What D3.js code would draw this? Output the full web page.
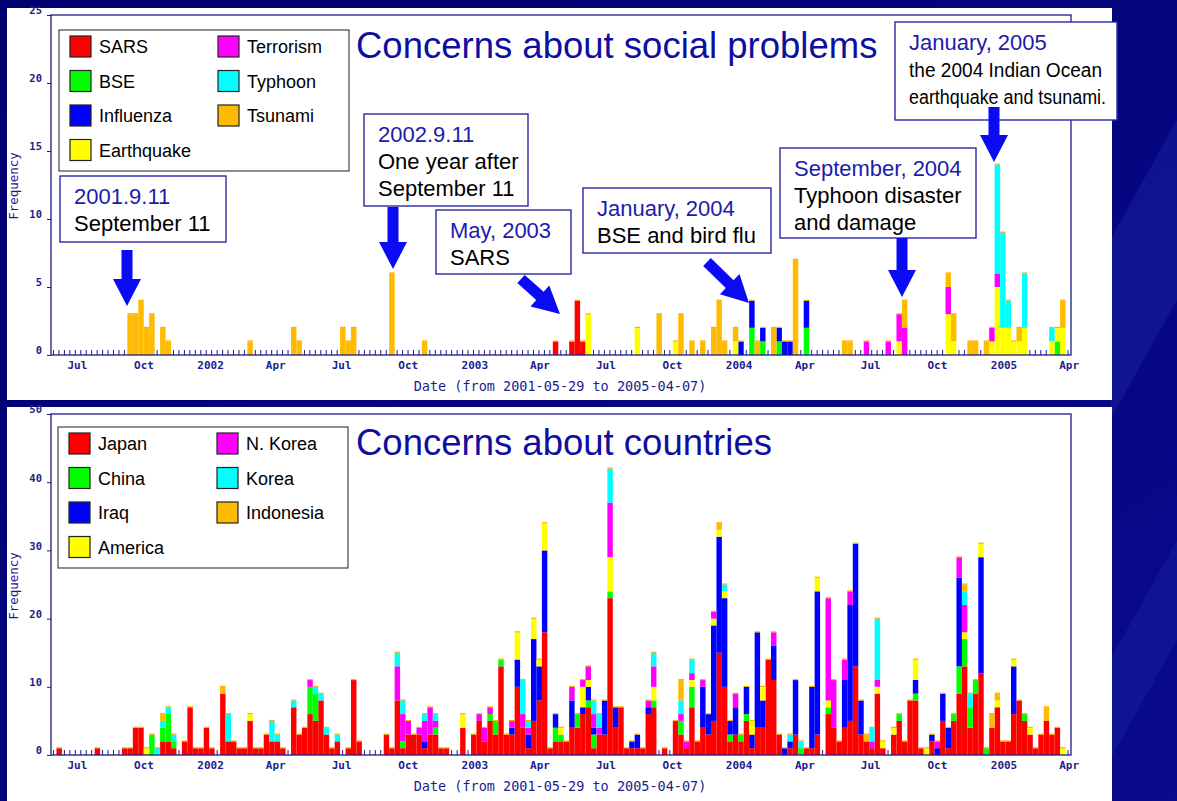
<!DOCTYPE html>
<html>
<head>
<meta charset="utf-8">
<script src="https://cdn.jsdelivr.net/npm/d3@7"></script>
<style>
  body { margin: 0; background: #000080; overflow: hidden; }
  text { font-family: "Liberation Sans", Arial, sans-serif; }
  .mono { font-family: "DejaVu Sans Mono", monospace; }
</style>
</head>
<body>
<svg id="slide" width="1177" height="801"></svg>
<script>
// ---- data: weekly-ish bins, [binIndex, count] ----
const binCount = 187;
const startDate = new Date(2001, 4, 29);
const endDate = new Date(2005, 3, 7);

const socialKeys = ["SARS", "BSE", "Influenza", "Earthquake", "Terrorism", "Typhoon", "Tsunami"];
const countryKeys = ["Japan", "China", "Iraq", "America", "N. Korea", "Korea", "Indonesia"];
const seriesColors = ["#ff0000", "#00ff00", "#0000ff", "#ffff00", "#ff00ff", "#00ffff", "#ffbb00"];

const sars = [[92,1],[95,1],[96,4],[97,1]];
const bse = [[128,2],[130,1],[133,1],[138,2],[184,1]];
const influenza = [[126,1],[128,2],[130,1],[133,1],[134,1],[135,1],[138,2]];
const earthquake = [[98,3],[107,2],[114,1],[125,1],[155,1],[164,3],[165,1],[172,1],[173,5],[174,2],[175,2],[176,1],[177,1],[178,2],[183,1],[184,1],[185,2]];
const terrorism = [[149,1],[153,1],[155,2],[156,2],[164,2],[172,1],[173,1]];
const typhoon = [[173,8],[174,7],[175,2],[178,4],[183,1]];
const tsunami = [[14,3],[15,3],[16,4],[17,2],[18,3],[20,2],[21,1],[36,1],[44,2],[45,1],[53,2],[54,1],[55,2],[62,6],[68,1],
  [111,3],[115,3],[117,1],[119,1],[121,2],[122,4],[123,1],[125,1],[129,1],[132,2],[136,7],[145,1],[146,1],[156,2],
  [164,1],[165,2],[168,1],[169,1],[171,1],[177,1],[185,2]];

const japan = [[1,1],[8,1],[13,1],[14,1],[15,4],[16,4],[20,2],[21,2],[22,1],[24,2],[25,7],[26,1],[27,1],[28,4],[29,1],
  [31,9],[32,2],[33,2],[34,1],[35,1],[36,5],[37,1],[38,1],[39,3],[40,2],[41,2],[42,1],[44,7],[45,3],[46,4],[47,6],
  [48,5],[49,8],[50,3],[51,1],[52,2],[54,1],[55,11],[56,2],[61,3],[62,1],[63,8],[64,1],[65,3],[66,3],[67,3],[68,1],
  [69,3],[70,3],[71,1],[72,1],[75,4],[77,3],[78,5],[79,2],[80,5],[81,3],[82,13],[83,3],[84,3],[85,10],[86,4],[87,1],
  [88,5],[89,8],[90,18],[91,1],[92,2],[93,2],[94,2],[95,4],[96,4],[97,6],[98,7],[99,1],[100,3],[101,3],[102,23],
  [103,4],[104,7],[105,1],[106,1],[107,1],[108,1],[109,6],[110,7],[112,1],[114,5],[115,3],[116,1],[117,7],[118,2],
  [119,4],[120,3],[121,5],[122,15],[123,10],[124,2],[125,3],[126,2],[127,5],[128,1],[129,4],[130,4],[131,14],[132,11],
  [133,3],[135,1],[136,3],[138,1],[139,1],[140,3],[142,6],[143,4],[144,2],[145,4],[146,5],[147,13],[148,3],[149,2],
  [150,1],[151,9],[152,1],[154,3],[155,5],[156,2],[157,8],[158,8],[159,1],[161,2],[163,5],[164,1],[165,5],[166,9],
  [167,13],[168,4],[169,9],[170,12],[172,4],[173,7],[174,2],[175,2],[176,6],[177,8],[178,5],[179,3],[180,1],[181,3],
  [182,5],[183,3],[184,4]];
const china = [[18,3],[20,2],[21,4],[22,1],[47,4],[48,4],[64,1],[70,1],[80,1],[81,2],[82,1],[92,2],[93,1],[96,2],[98,1],
  [99,2],[102,1],[110,1],[115,2],[117,3],[124,1],[126,1],[127,1],[137,1],[142,1],[155,1],[158,1],[165,1],[166,4],
  [167,4],[168,3],[169,2],[171,1],[178,1]];
const iraq = [[68,1],[84,1],[85,4],[87,2],[88,12],[89,5],[90,12],[92,2],[95,4],[97,1],[98,2],[99,1],[101,5],[103,3],
  [106,1],[107,2],[109,1],[119,6],[120,3],[121,14],[122,17],[123,13],[124,2],[125,4],[127,4],[128,2],[129,14],[130,4],
  [132,5],[134,1],[135,1],[136,8],[139,9],[140,21],[145,7],[146,17],[147,18],[148,5],[158,2],[161,1],[162,1],[163,4],
  [164,3],[166,13],[170,17],[176,7]];
const america = [[17,1],[36,1],[75,2],[85,4],[88,3],[89,1],[90,4],[93,1],[97,3],[98,1],[102,5],[110,2],[117,1],[121,1],
  [122,1],[123,1],[128,2],[130,2],[140,2],[142,1],[151,1],[152,1],[154,1],[158,3],[160,1],[167,1],[170,2],[173,1],
  [176,1],[179,1],[185,1]];
const nKorea = [[47,1],[63,5],[64,4],[65,2],[67,1],[68,3],[69,4],[70,1],[78,1],[79,2],[80,1],[84,1],[86,2],[87,1],[95,2],
  [97,1],[98,2],[99,2],[100,1],[102,8],[109,1],[110,3],[115,1],[116,1],[117,1],[119,1],[121,1],[125,2],[132,2],
  [142,15],[143,7],[145,3],[146,2],[150,1],[151,1],[162,1],[166,3],[167,4]];
const korea = [[19,1],[20,1],[21,1],[22,1],[32,4],[40,3],[41,1],[44,1],[48,1],[49,1],[50,1],[52,1],[63,2],[64,2],[68,1],
  [70,1],[86,5],[87,1],[99,2],[100,2],[102,5],[110,2],[115,2],[117,2],[123,1],[135,1],[137,1],[150,2],[151,9],
  [167,2],[168,2]];
const indonesia = [[20,1],[31,1],[115,3],[122,1],[149,1],[167,1],[172,2],[173,1],[182,2]];

const socialTicks = [0, 5, 10, 15, 20, 25];
const countryTicks = [0, 10, 20, 30, 40, 50];

// ---- drawing ----
const navy = "#1c1c8c";
const svg = d3.select("#slide");
const plotL = 51, plotR = 1071;

const x = d3.scaleLinear().domain([0, binCount]).range([plotL, plotR]);
const t = d3.scaleTime().domain([startDate, endDate]).range([plotL + 2, plotR + 2]);

// slide background
const defs = svg.append("defs");
const grad = defs.append("linearGradient").attr("id", "bg").attr("x1", 0).attr("y1", 0).attr("x2", 1).attr("y2", 1);
grad.append("stop").attr("offset", "0%").attr("stop-color", "#00006e");
grad.append("stop").attr("offset", "100%").attr("stop-color", "#0a0a8e");
svg.append("rect").attr("width", 1177).attr("height", 801).attr("fill", "url(#bg)");
svg.append("path").attr("d", "M1177,120 L1177,300 L1110,420 L1110,240 Z").attr("fill", "#1f2fa8").attr("opacity", 0.35);
svg.append("path").attr("d", "M1177,540 L1177,640 L1110,760 L1110,660 Z").attr("fill", "#1f2fa8").attr("opacity", 0.3);

function fill(pairs) {
  const a = new Array(binCount).fill(0);
  pairs.forEach(([i, v]) => { a[i] = v; });
  return a;
}

function drawPanel(cfg) {
  const g = svg.append("g");
  g.append("rect").attr("x", 7).attr("y", cfg.boxTop).attr("width", 1105).attr("height", cfg.boxBottom - cfg.boxTop).attr("fill", "#fff");

  const y = d3.scaleLinear().domain([0, cfg.yMax]).range([cfg.y0, cfg.y1]);

  // weekly minor ticks on the baseline (bars cover them)
  g.append("g").selectAll("line").data(d3.range(binCount)).join("line")
    .attr("x1", i => x(i) + 2.5).attr("x2", i => x(i) + 2.5)
    .attr("y1", cfg.y0).attr("y2", cfg.y0 - 5)
    .attr("stroke", navy).attr("stroke-width", 1);

  const cols = cfg.values.map(fill);
  const rows = d3.range(binCount).map(i => {
    const r = { bin: i };
    cfg.keys.forEach((k, j) => { r[k] = cols[j][i]; });
    return r;
  });
  const layers = d3.stack().keys(cfg.keys)(rows);

  g.append("g").selectAll("g").data(layers).join("g")
    .attr("fill", (d, i) => seriesColors[i])
    .selectAll("rect").data(d => d.filter(s => s[1] > s[0])).join("rect")
    .attr("x", d => x(d.data.bin))
    .attr("width", x(1) - x(0))
    .attr("y", d => y(d[1]))
    .attr("height", d => y(d[0]) - y(d[1]));

  // thin orange cap on each bar
  const totals = rows.map(r => ({ bin: r.bin, total: d3.sum(cfg.keys, k => r[k]) })).filter(d => d.total > 0);
  g.append("g").selectAll("rect").data(totals).join("rect")
    .attr("x", d => x(d.bin)).attr("width", x(1) - x(0))
    .attr("y", d => y(d.total) - 1).attr("height", 1.2)
    .attr("fill", "#ffb000");

  // frame
  g.append("rect").attr("x", plotL).attr("y", cfg.y1).attr("width", plotR - plotL).attr("height", cfg.y0 - cfg.y1)
    .attr("fill", "none").attr("stroke", navy).attr("stroke-width", 1.3);

  // y axis
  const ya = g.append("g").attr("transform", `translate(${plotL},0)`)
    .call(d3.axisLeft(y).tickValues(cfg.ticks).tickSize(4).tickPadding(5));
  ya.select(".domain").remove();
  ya.selectAll("line").attr("stroke", navy);
  ya.selectAll("text").attr("class", "mono").attr("fill", navy).attr("font-size", 10.5).attr("font-weight", "bold").attr("dy", "-0.1em");

  // x axis
  const xa = g.append("g").attr("transform", `translate(0,${cfg.y0})`)
    .call(d3.axisBottom(t).ticks(d3.timeMonth.every(3)).tickSize(0).tickPadding(6)
      .tickFormat(d => d.getMonth() === 0 ? d3.timeFormat("%Y")(d) : d3.timeFormat("%b")(d)));
  xa.select(".domain").remove();
  xa.selectAll("text").attr("class", "mono").attr("fill", navy).attr("font-size", 11).attr("font-weight", "bold");

  g.append("text").attr("class", "mono").attr("x", 560).attr("y", cfg.y0 + 36)
    .attr("text-anchor", "middle").attr("fill", navy).attr("font-size", 13.5)
    .text("Date (from 2001-05-29 to 2005-04-07)");
  g.append("text").attr("class", "mono")
    .attr("transform", `translate(18,${cfg.labelY}) rotate(-90)`)
    .attr("text-anchor", "middle").attr("fill", navy).attr("font-size", 12.5)
    .text("Frequency");

  // legend
  const lg = g.append("g");
  lg.append("rect").attr("x", cfg.legend.x).attr("y", cfg.legend.y).attr("width", 290).attr("height", 141)
    .attr("fill", "#fff").attr("stroke", "#444").attr("stroke-width", 1.2);
  const items = lg.selectAll("g").data(cfg.keys).join("g")
    .attr("transform", (d, i) => {
      const col = i < 4 ? 0 : 1, row = i < 4 ? i : i - 4;
      return `translate(${cfg.legend.x + 11 + col * 148},${cfg.legend.y + 6 + row * 34.5})`;
    });
  items.append("rect").attr("width", 21).attr("height", 21)
    .attr("fill", (d, i) => seriesColors[i]).attr("stroke", "#222").attr("stroke-width", 1.2);
  items.append("text").attr("x", 29).attr("y", 17).attr("font-size", 18).attr("fill", "#000").text(d => d);

  g.append("text").attr("x", 356).attr("y", cfg.titleY).attr("font-size", 36.5).attr("fill", "#0e0ea0").text(cfg.title);
}

drawPanel({
  boxTop: 8, boxBottom: 400, y0: 355, y1: 15, yMax: 25, ticks: socialTicks,
  keys: socialKeys, values: [sars, bse, influenza, earthquake, terrorism, typhoon, tsunami],
  legend: { x: 59, y: 30 }, labelY: 186, title: "Concerns about social problems", titleY: 58
});
drawPanel({
  boxTop: 407, boxBottom: 801, y0: 755, y1: 414, yMax: 50, ticks: countryTicks,
  keys: countryKeys, values: [japan, china, iraq, america, nKorea, korea, indonesia],
  legend: { x: 58, y: 427 }, labelY: 586, title: "Concerns about countries", titleY: 455
});

// ---- annotations on the upper chart ----
const notes = [
  { x: 60, y: 176, w: 166, h: 66, lines: ["2001.9.11", "September 11"] },
  { x: 364, y: 114, w: 164, h: 92, lines: ["2002.9.11", "One year after", "September 11"] },
  { x: 436, y: 210, w: 135, h: 64, lines: ["May, 2003", "SARS"] },
  { x: 583, y: 188, w: 188, h: 65, lines: ["January, 2004", "BSE and bird flu"] },
  { x: 780, y: 148, w: 196, h: 90, lines: ["September, 2004", "Typhoon disaster", "and damage"] },
  { x: 895, y: 22, w: 222, h: 98, lines: ["January, 2005", "the 2004 Indian Ocean", "earthquake and tsunami."],
    size: [22, 19.5, 19.5], fit: [0, 193, 197] }
];
const arrows = [
  [127, 250, 127, 306], [393, 207, 393, 269], [521, 279, 560, 314],
  [707, 262, 749, 303], [902, 238, 902, 297], [994, 107, 994, 162]
];

const ng = svg.append("g");
notes.forEach(n => {
  ng.append("rect").attr("x", n.x).attr("y", n.y).attr("width", n.w).attr("height", n.h)
    .attr("fill", "#fff").attr("stroke", "#2a2aa6").attr("stroke-width", 1.4);
  n.lines.forEach((l, i) => {
    const tx = ng.append("text").attr("x", n.x + 14).attr("y", n.y + 28 + i * 27)
      .attr("font-size", n.size ? n.size[i] : 22).attr("fill", i === 0 ? "#1c1ca8" : "#000").text(l);
    if (n.fit && n.fit[i]) tx.attr("textLength", n.fit[i]).attr("lengthAdjust", "spacingAndGlyphs");
  });
});

function arrowPath(x1, y1, x2, y2) {
  const len = Math.hypot(x2 - x1, y2 - y1), ux = (x2 - x1) / len, uy = (y2 - y1) / len;
  const px = -uy, py = ux, sw = 5.5, hw = 14, hl = 27;
  const bx = x2 - ux * hl, by = y2 - uy * hl;
  const pts = [
    [x1 + px * sw, y1 + py * sw], [bx + px * sw, by + py * sw], [bx + px * hw, by + py * hw],
    [x2, y2], [bx - px * hw, by - py * hw], [bx - px * sw, by - py * sw], [x1 - px * sw, y1 - py * sw]
  ];
  return d3.line()(pts) + "Z";
}
ng.selectAll("path.arrow").data(arrows).join("path").attr("class", "arrow")
  .attr("d", d => arrowPath(...d)).attr("fill", "#0a0af5");
</script>
</body>
</html>
